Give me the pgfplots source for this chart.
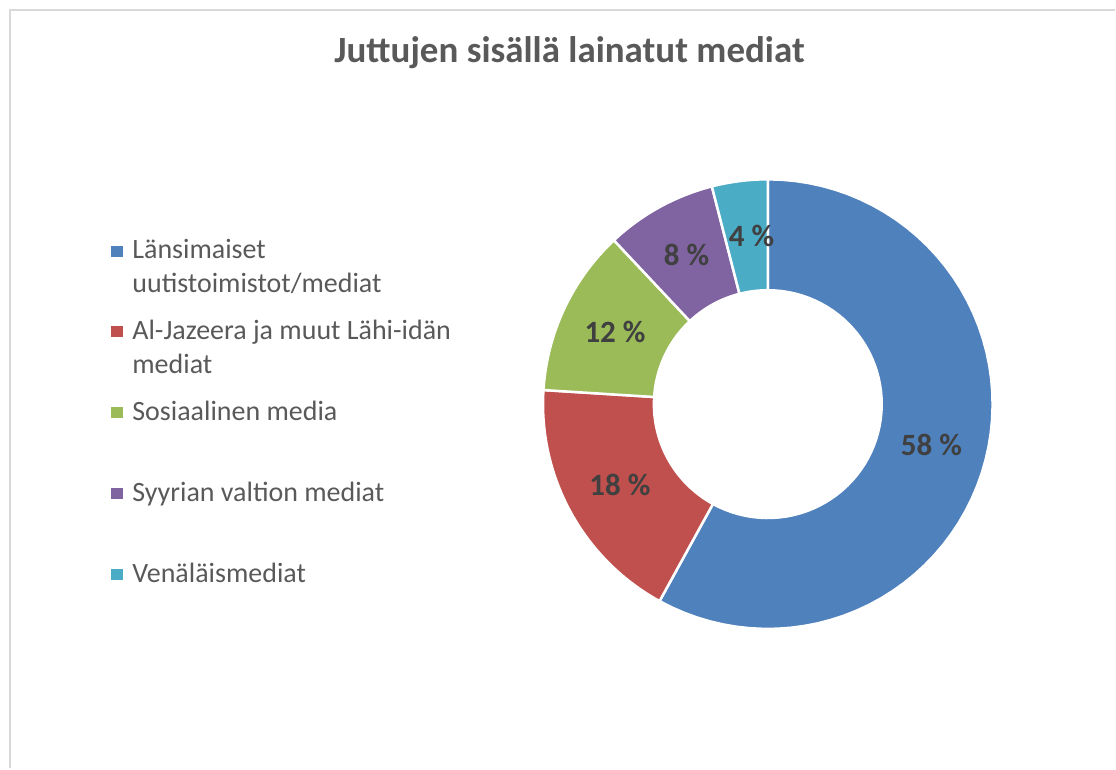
\documentclass[border=0pt]{standalone}
\usepackage{fontspec}
\setmainfont{Carlito}
\usepackage{pgfplots}
\usepackage{pgfplotstable}
\pgfplotsset{compat=1.18}
\definecolor{cA}{HTML}{4F81BD}
\definecolor{cB}{HTML}{C0504D}
\definecolor{cC}{HTML}{9BBB59}
\definecolor{cD}{HTML}{8064A2}
\definecolor{cE}{HTML}{4BACC6}
\definecolor{textgray}{HTML}{595959}
\definecolor{labelgray}{HTML}{404040}
\definecolor{framegray}{HTML}{D9D9D9}

\pgfplotstableread{
name value
West 58
MiddleEast 18
Social 12
Syria 8
Russia 4
}\mediatable

% outer radius, inner radius, centre (pt, y measured from bottom)
\def\Ro{225}
\def\Ri{114}
\def\Cx{768.5}
\def\Cy{364.5}

\newcommand{\donutwedge}[3]{%
  \addplot[fill=#3, draw=white, line width=2.5pt, line join=round,
    domain=0:4, samples=241]
  ({\Cx + (\Ro - (\Ro-\Ri)*min(max(x-1,0),1) + (\Ro-\Ri)*max(x-3,0))
        *cos((#1) + ((#2)-(#1))*min(x,1) - ((#2)-(#1))*min(max(x-2,0),1))},
   {\Cy + (\Ro - (\Ro-\Ri)*min(max(x-1,0),1) + (\Ro-\Ri)*max(x-3,0))
        *sin((#1) + ((#2)-(#1))*min(x,1) - ((#2)-(#1))*min(max(x-2,0),1))});
}
\newcommand{\entrybox}[1]{\vtop{\hsize=360pt\parindent=0pt\baselineskip=33.5pt\strut #1\strut}}
\newcommand{\nl}{\hfil\break}

\begin{document}
\begin{tikzpicture}
\pgfplotstablegetelem{0}{value}\of\mediatable \pgfmathsetmacro\vA{\pgfplotsretval}
\pgfplotstablegetelem{1}{value}\of\mediatable \pgfmathsetmacro\vB{\pgfplotsretval}
\pgfplotstablegetelem{2}{value}\of\mediatable \pgfmathsetmacro\vC{\pgfplotsretval}
\pgfplotstablegetelem{3}{value}\of\mediatable \pgfmathsetmacro\vD{\pgfplotsretval}
\pgfplotstablegetelem{4}{value}\of\mediatable \pgfmathsetmacro\vE{\pgfplotsretval}
\pgfmathsetmacro\vT{\vA+\vB+\vC+\vD+\vE}
\pgfmathsetmacro\aA{90}
\pgfmathsetmacro\aB{\aA-360*(\vA/\vT)}
\pgfmathsetmacro\aC{\aB-360*(\vB/\vT)}
\pgfmathsetmacro\aD{\aC-360*(\vC/\vT)}
\pgfmathsetmacro\aE{\aD-360*(\vD/\vT)}
\pgfmathsetmacro\aF{\aE-360*(\vE/\vT)}
\pgfmathsetmacro\mA{(\aA+\aB)/2}
\pgfmathsetmacro\mB{(\aB+\aC)/2}
\pgfmathsetmacro\mC{(\aC+\aD)/2}
\pgfmathsetmacro\mD{(\aD+\aE)/2}
\pgfmathsetmacro\mE{(\aE+\aF)/2}
\pgfmathsetmacro\Rm{(\Ro+\Ri)/2-0.5}
\begin{axis}[
  scale only axis, width=1116pt, height=769pt,
  xmin=0, xmax=1116, ymin=0, ymax=769,
  hide axis, clip=false,
  legend cell align=left,
  legend image code/.code={\fill[#1,draw=none] (0pt,19.3pt) rectangle (12.5pt,30.3pt);},
  legend style={at={(axis description cs:0.09946,0.69369)}, anchor=north west,
    draw=none, fill=none, inner sep=0pt, outer sep=0pt,
    row sep=0pt, column sep=0pt,
    font=\fontsize{28}{33.5}\selectfont, text=textgray,
    nodes={inner sep=0pt, outer sep=0pt, text height=23.45pt, text depth=57.55pt},
    /tikz/every odd column/.append style={column sep=9pt}},
]
% invisible page extent
\addplot[draw=none, forget plot] coordinates {(0,0) (1116,769)};
% chart frame (cropped)
\addplot[draw=framegray, line width=2pt, forget plot] coordinates {(10.5,0) (10.5,758.5) (1116,758.5)};

\donutwedge{\aA}{\aB}{cA}
\addlegendentry{\entrybox{Länsimaiset\nl uutistoimistot/mediat}}
\donutwedge{\aB}{\aC}{cB}
\addlegendentry{\entrybox{Al-Jazeera ja muut Lähi-idän\nl mediat}}
\donutwedge{\aC}{\aD}{cC}
\addlegendentry{\entrybox{Sosiaalinen media}}
\donutwedge{\aD}{\aE}{cD}
\addlegendentry{\entrybox{Syyrian valtion mediat}}
\donutwedge{\aE}{\aF}{cE}
\addlegendentry{\entrybox{Venäläismediat}}

\node[anchor=base, font=\bfseries\fontsize{37}{44}\selectfont, text=textgray]
  at (axis cs:570,706) {Juttujen sisällä lainatut mediat};

\tikzset{dlabel/.style={anchor=base, font=\bfseries\fontsize{31}{37}\selectfont, text=labelgray, inner sep=0pt}}
\node[dlabel] at (axis cs:{\Cx+\Rm*cos(\mA)},{\Cy+\Rm*sin(\mA)-9.8}) {58 \%};
\node[dlabel] at (axis cs:{\Cx+\Rm*cos(\mB)},{\Cy+\Rm*sin(\mB)-9.8}) {18 \%};
\node[dlabel] at (axis cs:{\Cx+\Rm*cos(\mC)},{\Cy+\Rm*sin(\mC)-9.8}) {12 \%};
\node[dlabel] at (axis cs:{\Cx+\Rm*cos(\mD)},{\Cy+\Rm*sin(\mD)-9.8}) {8 \%};
\node[dlabel] at (axis cs:{\Cx+\Rm*cos(\mE)+5},{\Cy+\Rm*sin(\mE)-9.8}) {4 \%};
\end{axis}
\end{tikzpicture}
\end{document}
